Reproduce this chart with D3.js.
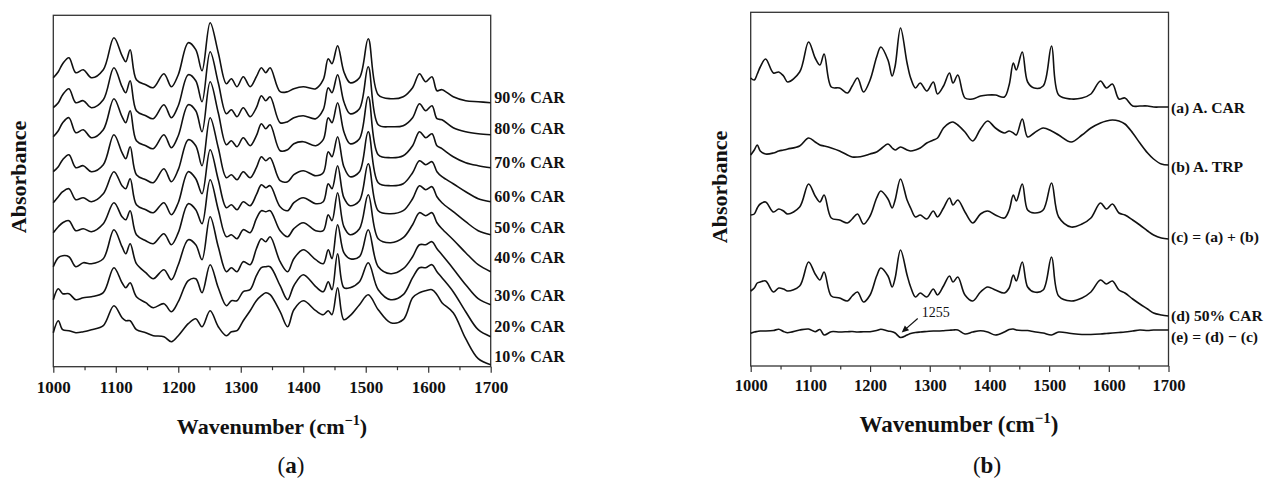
<!DOCTYPE html>
<html><head><meta charset="utf-8">
<script src="https://cdn.jsdelivr.net/npm/d3@7"></script>
<style>
body{margin:0;background:#fff}
svg{display:block}
text{font-family:"Liberation Serif","Times New Roman",serif;fill:#111}
</style>
</head><body>
<svg id="chart" width="1266" height="479"></svg>
<script>
// ---------- DATA ----------
const ticksMajor = [1000,1100,1200,1300,1400,1500,1600,1700];
const ticksMinor = [1050,1150,1250,1350,1450,1550,1650];

// Panel (a): wavenumber grid and per-series heights (a.u.) relative to the series start
const wnA = [1000,1008,1015,1025,1036,1048,1061,1080,1097,1110,1116,1123,1133,1148,1160,1177,1189,1200,1216,1228,1238,1251,1264,1277,1285,1294,1304,1315,1325,1333,1340,1347,1363,1375,1385,1400,1420,1432,1440,1446,1455,1465,1475,1490,1504,1520,1540,1560,1575,1586,1596,1606,1614,1622,1640,1660,1680,1700];
const labelsA = ["90% CAR","80% CAR","70% CAR","60% CAR","50% CAR","40% CAR","30% CAR","20% CAR","10% CAR"];
const offsetsA = [289,259,230,195,164,134,100,67,34];
const car90 = [0,6,14,20,5,8,0,8,40,22,16,28,-2,-7,-10,4,-9,3,35,28,7,55,25,-6,-1,-9,1,-9,1,10,5,10,-14,-14,-11,-9,-11,-2,19,14,32,6,-5,0,39,-17,-21,-19,-10,4,-4,1,-13,-12,-19,-23,-24,-25];
const car80 = [0,5,13,19,5,7,0,8,40,21,15,27,-3,-8,-11,3,-10,2,33,27,6,56,25,-6,-2,-9,0,-9,0,12,7,11,-15,-14,-10,-8,-11,-2,20,15,33,6,-6,-1,41,-17,-19,-18,-10,4,-3,2,-11,-12,-20,-24,-26,-27];
const car70 = [0,6,14,19,4,7,-1,7,38,20,14,26,-4,-9,-12,2,-11,1,32,26,5,55,24,-8,-4,-10,-1,-9,1,13,8,12,-14,-13,-7,-5,-9,-3,19,14,34,5,-7,-2,40,-18,-21,-19,-9,5,-1,3,-9,-12,-20,-26,-29,-31];
const car60 = [0,5,12,17,4,6,0,7,37,19,13,25,-3,-8,-11,3,-10,2,32,26,6,54,24,-6,-3,-8,0,-6,4,15,11,14,-9,-10,-3,1,-4,-1,20,15,35,5,-5,0,40,-11,-14,-12,-1,11,7,10,0,-5,-12,-20,-27,-30];
const car50 = [0,6,11,14,3,5,1,9,31,17,14,24,-2,-7,-10,0,-12,0,31,24,9,53,23,-5,-2,-7,1,-3,8,18,15,17,-4,-8,0,5,-1,1,19,14,37,5,-3,2,39,-8,-11,-8,4,17,13,16,6,0,-9,-19,-28,-32];
const car40 = [0,6,10,12,2,4,1,9,30,16,13,22,-2,-8,-11,-1,-12,0,29,23,9,53,23,-4,-2,-6,3,0,14,22,21,22,2,-4,4,10,2,2,18,12,40,6,-2,4,38,-6,-10,-5,8,20,17,20,10,4,-7,-20,-32,-39];
const car30 = [0,9,11,10,0,4,3,8,37,20,13,23,3,-6,-12,-3,-13,2,27,22,7,50,20,-5,-1,-5,5,2,18,28,25,30,5,-5,8,17,7,3,17,8,42,14,8,10,37,0,-7,-2,10,22,22,25,18,12,-2,-18,-32,-38];
const car20 = [0,11,6,6,0,2,3,7,32,17,12,17,3,-3,-8,-4,-12,-2,19,21,7,35,12,-6,-1,-1,8,10,24,32,33,33,14,0,14,25,13,8,18,10,46,12,12,18,37,10,0,5,22,32,32,35,28,22,8,-12,-30,-37];
const car10 = [0,12,3,2,0,1,3,7,27,15,12,12,3,0,-3,-4,-9,-3,9,14,6,22,6,-3,1,2,12,22,32,37,40,38,21,6,23,32,22,18,22,18,45,13,17,28,38,23,10,13,35,40,42,43,38,30,20,-6,-26,-32];
const seriesA = [car90,car80,car70,car60,car50,car40,car30,car20,car10];

// Panel (b): wavenumber grid and absorbance (a.u.)
const wnB = [1000,1006,1011,1016,1025,1038,1047,1055,1062,1082,1097,1108,1116,1123,1135,1149,1162,1170,1179,1189,1200,1211,1218,1230,1237,1242,1251,1262,1268,1276,1284,1295,1306,1313,1323,1333,1339,1347,1359,1372,1385,1397,1410,1425,1433,1440,1445,1455,1464,1475,1490,1504,1516,1537,1555,1570,1586,1596,1606,1617,1627,1640,1652,1665,1675,1688,1700];
const labelsB = ["(a) A. CAR","(b) A. TRP","(c) = (a) + (b)","(d) 50% CAR","(e) = (d) \u2212 (c)"];
const specCAR = [288,286,292,299,307,293,294,290,284,294,324,308,301,312,279,278,273,280,288,274,286,309,319,306,290,300,338,303,288,278,283,275,284,272,280,293,283,291,268,267,270,271,271,269,281,303,296,314,284,278,280,320,271,267,268,272,285,278,282,267,268,260,260,260,259,259,259];
const specTRP = [211,216,221,215,212,213,215,216,217,220,228,224,221,220,218,215,211,209,209,210,212,214,217,222,218,216,219,216,215,216,218,223,226,228,238,243,244,241,234,225,237,245,238,233,235,233,231,247,229,233,238,235,231,224,231,238,243,245,246,245,242,233,223,213,207,202,201];
const specSum = [151,152,158,162,164,154,157,155,152,159,182,170,164,171,148,146,143,147,152,142,150,168,175,167,158,166,187,166,158,149,151,147,155,149,158,168,161,166,154,143,152,155,151,148,156,171,165,182,156,153,156,183,149,139,142,148,163,157,162,153,151,146,141,135,131,128,127];
const spec50 = [75,78,83,84,85,74,78,77,75,80,104,92,86,94,70,68,65,70,74,64,71,90,98,90,79,88,116,91,79,69,73,69,77,71,80,90,84,89,71,65,74,79,76,73,78,91,85,104,79,74,76,109,70,65,68,74,86,82,85,76,73,67,62,57,53,51,50];
const specDiff = [32.7,34,34.5,35,35,35.5,36.7,34.5,33.3,36,37,34.3,36.5,31,34.3,34,34.3,34.5,34,34.3,34.3,35.5,36.7,35,34.3,33,28.5,31,32.5,33.5,34,34.5,35,35,35.3,35.7,36,36,32,34,35.3,34,31,34,36.5,37,36,35.5,35.5,34.3,33,31,34,32.5,31.5,31.5,32,32.5,33,33.5,34,35,36,35.5,36,36,36];
const seriesB = [specCAR,specTRP,specSum,spec50,specDiff];
const annotWn = 1253, annotText = "1255";

// ---------- LAYOUT ----------
const svg = d3.select("#chart");
const ink = "#111";

function panel(cfg){
  const g = svg.append("g");
  const x = d3.scaleLinear().domain([1000,1700]).range([cfg.left,cfg.right]);
  const y = d3.scaleLinear().domain([0,cfg.vmax]).range([cfg.bottom,cfg.top]);
  g.append("g").attr("transform",`translate(0,${cfg.bottom})`)
    .call(d3.axisBottom(x).tickValues(ticksMinor).tickSize(3.5).tickFormat(""))
    .call(s=>{s.select(".domain").remove(); s.selectAll("line").attr("stroke","#333").attr("stroke-width",1.2);});
  g.append("g").attr("transform",`translate(0,${cfg.bottom})`)
    .call(d3.axisBottom(x).tickValues(ticksMajor).tickSize(6).tickPadding(cfg.pad).tickFormat(d3.format("d")))
    .call(s=>{s.select(".domain").remove();
      s.selectAll("line").attr("stroke","#333").attr("stroke-width",1.2);
      s.selectAll("text").attr("font-family","Liberation Serif, serif").attr("font-weight","bold")
        .attr("font-size",cfg.tickFont).attr("fill",ink);});
  g.append("rect").attr("x",cfg.left).attr("y",cfg.top)
    .attr("width",cfg.right-cfg.left).attr("height",cfg.bottom-cfg.top)
    .attr("fill","none").attr("stroke","#333").attr("stroke-width",1.3);
  const t = g.append("text").attr("x",cfg.titleX).attr("y",cfg.titleY).attr("text-anchor","middle")
    .attr("font-weight","bold").attr("font-size",cfg.titleFont).text("Wavenumber (cm");
  t.append("tspan").attr("dy",-9).attr("font-size",cfg.titleFont*0.65).text("\u22121");
  t.append("tspan").attr("dy",9).text(")");
  g.append("text").attr("transform",`translate(${cfg.ylabX},${cfg.ylabY}) rotate(-90)`)
    .attr("text-anchor","middle").attr("font-weight","bold").attr("font-size",22).text("Absorbance");
  const p = g.append("text").attr("x",cfg.tagX).attr("y",473).attr("text-anchor","middle").attr("font-size",23);
  p.append("tspan").text("(");
  p.append("tspan").attr("font-weight","bold").text(cfg.tag);
  p.append("tspan").text(")");
  return {g,x,y};
}

// Panel (a)
const A = panel({left:53.3,right:490.7,top:15.3,bottom:366.7,vmax:351.4,pad:8,tickFont:17,
  titleX:272,titleY:434,titleFont:22,ylabX:26,ylabY:177,tagX:291,tag:"a"});
const lineA = d3.line().x(d=>A.x(d[0])).y(d=>A.y(d[1])).curve(d3.curveCatmullRom.alpha(0.5));
const labelBaseA = [103,134,168,202,233,263,301,332,362];
seriesA.forEach((s,i)=>{
  const pts = wnA.map((w,j)=>[w, offsetsA[i]+s[j]]);
  A.g.append("path").attr("d",lineA(pts)).attr("fill","none").attr("stroke",ink).attr("stroke-width",1.6);
  A.g.append("text").attr("x",A.x(1700)+3.5).attr("y",labelBaseA[i]).attr("font-weight","bold")
    .attr("font-size",16).text(labelsA[i]);
});

// Panel (b)
const B = panel({left:750.7,right:1168.5,top:12.3,bottom:366,vmax:353.7,pad:7,tickFont:16.5,
  titleX:959,titleY:432,titleFont:23,ylabX:727,ylabY:187,tagX:987,tag:"b"});
const lineB = d3.line().x(d=>B.x(d[0])).y(d=>B.y(d[1])).curve(d3.curveCatmullRom.alpha(0.5));
const labelBaseB = [113,172,242,321,342];
seriesB.forEach((s,i)=>{
  const pts = wnB.map((w,j)=>[w, s[j]]);
  B.g.append("path").attr("d",lineB(pts)).attr("fill","none").attr("stroke",ink).attr("stroke-width",1.6);
  B.g.append("text").attr("x",B.x(1700)+2.5).attr("y",labelBaseB[i]).attr("font-weight","bold")
    .attr("font-size",15.6).text(labelsB[i]);
});
// annotation arrow to the 1255 dip in (e)
const idx = wnB.indexOf(1251);
const tipX = B.x(annotWn), tipY = B.y(specDiff[idx]) - 5;
const sx = tipX + 16, sy = tipY - 14;
const ang = Math.atan2(tipY-sy, tipX-sx);
B.g.append("line").attr("x1",sx).attr("y1",sy).attr("x2",tipX-4*Math.cos(ang)).attr("y2",tipY-4*Math.sin(ang))
  .attr("stroke",ink).attr("stroke-width",1.2);
const ah = 7, aw = 3.2;
const bx = tipX - ah*Math.cos(ang), by = tipY - ah*Math.sin(ang);
B.g.append("path").attr("d",`M${tipX},${tipY}L${bx + aw*Math.sin(ang)},${by - aw*Math.cos(ang)}L${bx - aw*Math.sin(ang)},${by + aw*Math.cos(ang)}Z`)
  .attr("fill",ink);
B.g.append("text").attr("x",sx+18).attr("y",sy-1.5).attr("text-anchor","middle").attr("font-size",14).text(annotText);
</script>
</body></html>
